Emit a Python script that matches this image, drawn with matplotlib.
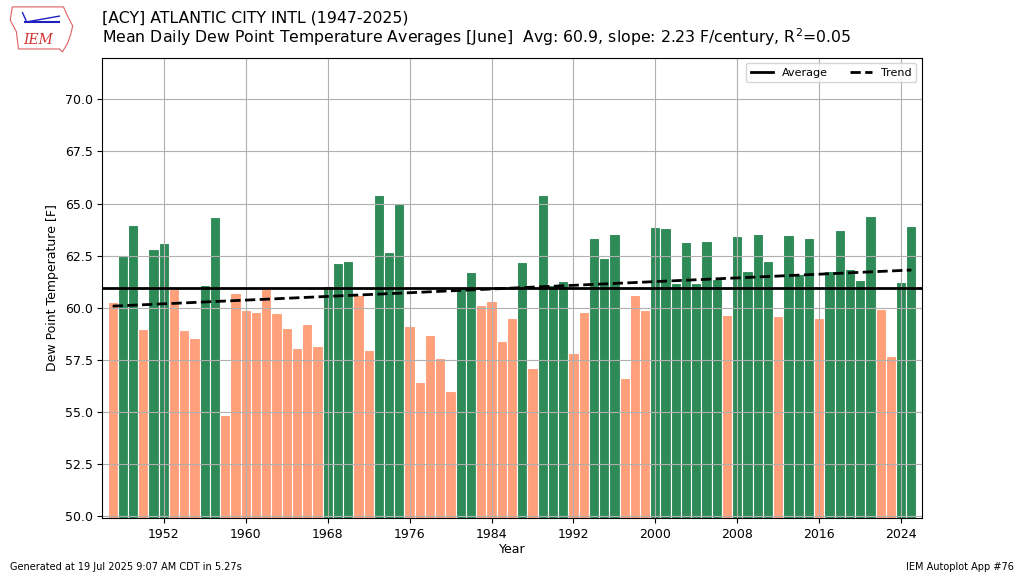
import numpy as np
import matplotlib
import matplotlib.pyplot as plt
from matplotlib.patches import Polygon
matplotlib.use('Agg')

years = list(range(1947, 2026))
dewp = [
    60.28, 62.50, 63.99, 58.97, 62.80, 63.11, 60.90, 58.92, 58.55, 61.08,  # 1947-1956
    64.34, 54.84, 60.73, 59.89, 59.80, 60.91, 59.73, 59.05, 58.09, 59.24,  # 1957-1966
    58.17, 61.05, 62.15, 62.23, 60.63, 57.96, 65.41, 62.68, 64.98, 59.11,  # 1967-1976
    56.46, 58.70, 57.59, 56.01, 60.97, 61.70, 60.15, 60.31, 58.39, 59.51,  # 1977-1986
    62.21, 57.11, 65.41, 61.08, 61.29, 57.82, 59.80, 63.36, 62.37, 63.52,  # 1987-1996
    56.65, 60.60, 59.88, 63.86, 63.81, 61.17, 63.14, 61.17, 63.22, 61.36,  # 1997-2006
    59.65, 63.44, 61.76, 63.56, 62.23, 59.61, 63.49, 61.60, 63.33, 59.50,  # 2007-2016
    61.76, 63.75, 61.88, 61.33, 64.40, 59.93, 57.69, 61.22, 63.91,  # 2017-2025
]
avg_txt = "60.9"
slope_txt = "2.23"
r2_txt = "0.05"

yrs = np.array(years)
vals = np.array(dewp)
avg = vals.mean()
colors = ['#2E8B57' if v >= avg else '#FFA07A' for v in vals]

fig = plt.figure(figsize=(10.24, 5.76), dpi=100)
ax = fig.add_axes([0.1, 0.1, 0.8, 0.8])

ax.bar(yrs, vals, width=1.0, color=colors, edgecolor='white', linewidth=0.8)
ax.axhline(avg, color='k', lw=2, label='Average')
p = np.polyfit(yrs, vals, 1)
ax.plot(yrs, np.polyval(p, yrs), color='k', lw=2, ls='--', label='Trend')

ax.set_xlim(1946, 2026)
ax.set_ylim(49.9, 72.0)
ax.set_xticks(range(1952, 2025, 8))
ax.set_yticks(np.arange(50, 70.1, 2.5))
ax.set_yticklabels([f"{t:.1f}" for t in np.arange(50, 70.1, 2.5)])
ax.grid(True)
ax.set_ylabel("Dew Point Temperature [F]", fontsize=9)
ax.set_xlabel("Year", fontsize=9, labelpad=1)
ax.tick_params(labelsize=9)
ax.legend(loc='upper right', ncol=2, fontsize=8)

fig.text(0.1, 0.956, "[ACY] ATLANTIC CITY INTL (1947-2025)", fontsize=11.3, va='bottom')
fig.text(0.1, 0.917,
         f"Mean Daily Dew Point Temperature Averages [June]  Avg: {avg_txt}, "
         f"slope: {slope_txt} F/century, R$^2$={r2_txt}",
         fontsize=11.3, va='bottom')

# rough stand-in for the IEM logo
iowa = [(0.012, 0.988), (0.062, 0.988), (0.066, 0.972), (0.071, 0.955),
        (0.069, 0.94), (0.066, 0.925), (0.061, 0.91), (0.058, 0.915),
        (0.018, 0.915), (0.016, 0.945), (0.01, 0.965)]
fig.patches.append(Polygon(iowa, closed=True, fill=False, edgecolor='#e06060',
                           lw=0.8, transform=fig.transFigure))
fig.text(0.037, 0.918, "IEM", color='#d03030', fontsize=10, style='italic',
         family='DejaVu Serif', ha='center', va='bottom')
fig.lines.append(plt.Line2D([0.024, 0.058], [0.962, 0.962], color='#2020c0', lw=1.5,
                            transform=fig.transFigure))
fig.lines.append(plt.Line2D([0.022, 0.026, 0.058], [0.978, 0.962, 0.972], color='#2020c0',
                            lw=1, transform=fig.transFigure))

fig.text(0.01, 0.01, "Generated at 19 Jul 2025 9:07 AM CDT in 5.27s", fontsize=7)
fig.text(0.99, 0.01, "IEM Autoplot App #76", fontsize=7, ha='right')

fig.savefig("out.png", dpi=100)
plt.close()
